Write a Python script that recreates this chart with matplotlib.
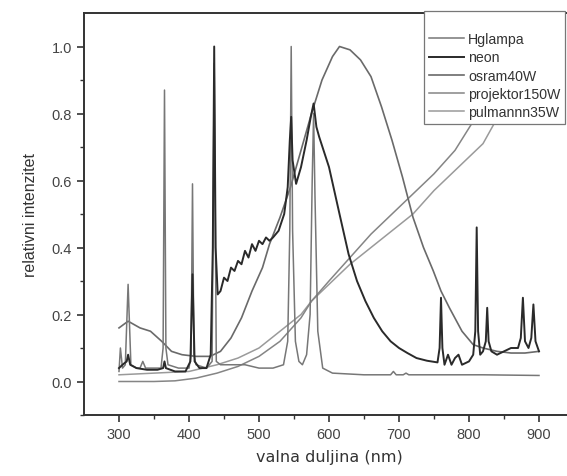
import matplotlib
matplotlib.use('Agg')
from matplotlib import pyplot as plt

plt.rcParams['font.family'] = ['Liberation Sans', 'DejaVu Sans']

# Hglampa (line spectrum)
hg_nm = [300, 302, 305, 309, 313, 317, 325, 330, 334, 338, 350, 360, 363, 365, 367, 370, 385, 400, 403,
         405, 407, 410, 425, 433, 436, 439, 445, 460, 480, 500, 520, 535, 541, 544, 546, 548, 552, 557,
         562, 568, 573, 576, 578, 580, 584, 591, 605, 650, 688, 692, 696, 706, 710, 714, 760, 820, 900]
hg_val = [0.03, 0.10, 0.04, 0.05, 0.29, 0.05, 0.04, 0.04, 0.06, 0.04, 0.04, 0.04, 0.10, 0.87, 0.10, 0.05,
          0.04, 0.04, 0.08, 0.59, 0.08, 0.05, 0.04, 0.06, 0.95, 0.06, 0.05, 0.05, 0.05, 0.04, 0.04, 0.05,
          0.12, 0.45, 1.00, 0.45, 0.12, 0.06, 0.05, 0.08, 0.20, 0.60, 0.80, 0.55, 0.15, 0.04, 0.025, 0.02,
          0.02, 0.03, 0.02, 0.02, 0.025, 0.02, 0.02, 0.02, 0.018]

# neon
ne_nm = [300, 305, 311, 313, 316, 325, 340, 355, 363, 365, 367, 380, 395, 402, 405, 408, 415, 425, 431,
         434, 436, 438, 441, 445, 450, 455, 460, 465, 470, 475, 480, 485, 490, 495, 500, 505, 510, 515,
         520, 528, 536, 541, 544, 546, 548, 553, 560, 568, 574, 578, 582, 586, 600, 615, 628, 640, 652,
         664, 676, 688, 700, 712, 725, 740, 755, 758, 760, 762, 765, 770, 775, 780, 785, 790, 800, 806,
         809, 811, 813, 816, 820, 824, 826, 828, 832, 840, 850, 860, 870, 874, 877, 880, 885, 889, 892,
         895, 900]
ne_val = [0.04, 0.05, 0.06, 0.08, 0.05, 0.04, 0.035, 0.035, 0.04, 0.06, 0.04, 0.03, 0.03, 0.06, 0.32,
          0.06, 0.04, 0.04, 0.08, 0.40, 1.00, 0.40, 0.26, 0.27, 0.31, 0.30, 0.34, 0.33, 0.36, 0.35, 0.39,
          0.37, 0.41, 0.39, 0.42, 0.41, 0.43, 0.42, 0.43, 0.45, 0.50, 0.58, 0.72, 0.79, 0.66, 0.59, 0.64,
          0.72, 0.79, 0.83, 0.76, 0.73, 0.64, 0.50, 0.38, 0.30, 0.24, 0.19, 0.15, 0.12, 0.10, 0.085, 0.07,
          0.062, 0.057, 0.10, 0.25, 0.10, 0.05, 0.08, 0.05, 0.07, 0.08, 0.05, 0.06, 0.08, 0.15, 0.46, 0.15,
          0.08, 0.09, 0.12, 0.22, 0.12, 0.09, 0.08, 0.09, 0.10, 0.10, 0.13, 0.25, 0.12, 0.10, 0.13, 0.23,
          0.12, 0.09]

# osram40W
os_nm = [300, 313, 330, 345, 361, 375, 390, 410, 430, 445, 460, 475, 490, 505, 515, 530, 545, 560, 575,
         590, 605, 615, 630, 645, 660, 675, 690, 705, 720, 735, 749, 760, 772, 790, 806, 820, 840, 860, 880,
         900]
os_val = [0.16, 0.18, 0.16, 0.15, 0.12, 0.09, 0.08, 0.075, 0.075, 0.09, 0.13, 0.19, 0.27, 0.34, 0.41,
          0.49, 0.58, 0.69, 0.80, 0.90, 0.97, 1.00, 0.99, 0.96, 0.91, 0.82, 0.72, 0.61, 0.49, 0.40, 0.33,
          0.27, 0.22, 0.15, 0.11, 0.10, 0.09, 0.085, 0.085, 0.09]

# projektor150W
pr_nm = [300, 350, 380, 410, 440, 470, 500, 530, 560, 575, 600, 630, 660, 690, 720, 750, 780, 810, 840,
         870, 900]
pr_val = [0.0, 0.0, 0.002, 0.01, 0.025, 0.045, 0.075, 0.12, 0.19, 0.24, 0.30, 0.37, 0.44, 0.50, 0.56,
          0.62, 0.69, 0.79, 0.85, 0.89, 0.92]

# pulmannn35W
pu_nm = [300, 350, 400, 440, 470, 500, 530, 560, 575, 600, 630, 660, 690, 720, 750, 780, 800, 820, 844,
         870, 900]
pu_val = [0.02, 0.025, 0.03, 0.05, 0.07, 0.10, 0.15, 0.20, 0.24, 0.29, 0.35, 0.40, 0.45, 0.50, 0.57,
          0.63, 0.67, 0.71, 0.80, 0.85, 0.88]

fig = plt.figure(figsize=(5.67, 4.77), dpi=100)
ax = fig.add_axes([84 / 567, 1 - 416 / 477, 490 / 567, 402 / 477])

ax.plot(pu_nm, pu_val, color='#9a9a9a', lw=1.1, label='pulmannn35W')
ax.plot(pr_nm, pr_val, color='#858585', lw=1.1, label='projektor150W')
ax.plot(os_nm, os_val, color='#6a6a6a', lw=1.2, label='osram40W')
ax.plot(hg_nm, hg_val, color='#777777', lw=1.1, label='Hglampa')
ax.plot(ne_nm, ne_val, color='#2a2a2a', lw=1.4, label='neon')

ax.set_xlim(250, 950)
ax.set_ylim(-0.1, 1.1)
ax.set_xticks([300, 400, 500, 600, 700, 800, 900])
ax.set_xticks([350, 450, 550, 650, 750, 850], minor=True)
ax.set_yticks([0.0, 0.2, 0.4, 0.6, 0.8, 1.0])
ax.set_yticks([-0.1, 0.1, 0.3, 0.5, 0.7, 0.9], minor=True)
ax.tick_params(which='major', direction='out', length=5, width=1.2, colors='#333333',
               labelcolor='#444444', labelsize=10.5)
ax.tick_params(which='minor', direction='out', length=3, width=1.0, colors='#333333')
for s in ax.spines.values():
    s.set_linewidth(1.4)
    s.set_color('#333333')

ax.set_xlabel('valna duljina (nm)', fontsize=11.5, color='#333333', family='DejaVu Sans', labelpad=6)
ax.set_ylabel('relativni intenzitet', fontsize=11.5, color='#333333', labelpad=10)

handles, labels = ax.get_legend_handles_labels()
order = ['Hglampa', 'neon', 'osram40W', 'projektor150W', 'pulmannn35W']
hl = dict(zip(labels, handles))
leg = fig.legend([hl[k] for k in order], order, loc='upper left',
                 bbox_to_anchor=(424 / 567, 1 - 12 / 477), fontsize=10.2, frameon=True,
                 fancybox=False, edgecolor='#777777', framealpha=1, handlelength=2.5,
                 handletextpad=0.25, labelspacing=0.3, borderpad=0.35, borderaxespad=0,
                 title=' ', title_fontsize=8.5)
leg.get_frame().set_linewidth(0.9)
for t in leg.get_texts():
    t.set_color('#333333')

fig.savefig('out.png', dpi=100)
